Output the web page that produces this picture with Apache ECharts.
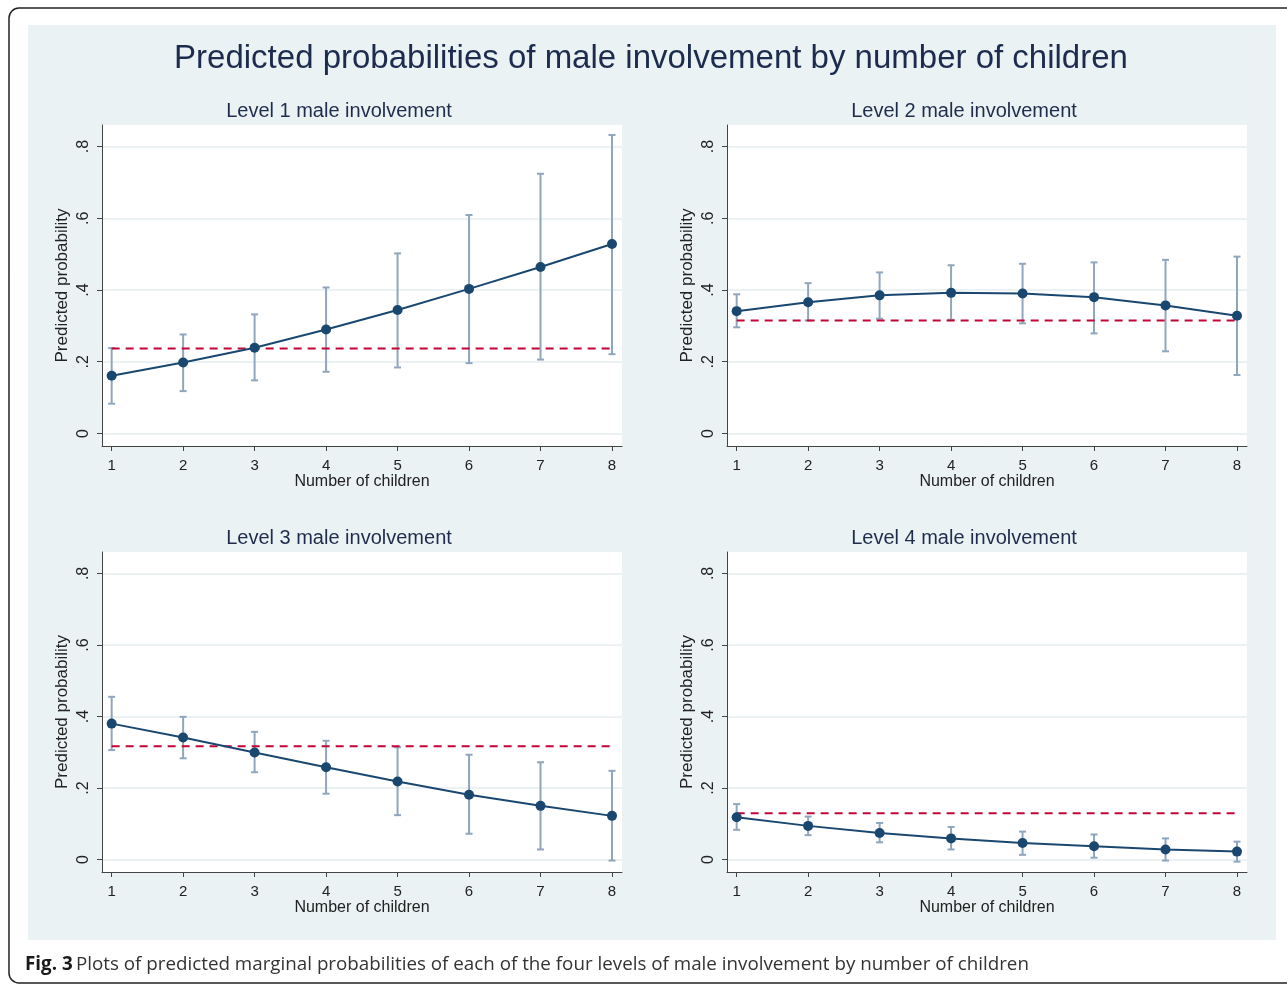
<!DOCTYPE html>
<html><head><meta charset="utf-8">
<script src="https://cdn.jsdelivr.net/npm/echarts@6/dist/echarts.min.js"></script>
<style>html,body{margin:0;padding:0;background:#fff;}#c{width:1287px;height:985px;}</style>
</head><body><div id="c"></div>
<script>
const children = [1, 2, 3, 4, 5, 6, 7, 8];
const yTickValues = [0, 0.2, 0.4, 0.6, 0.8];
const yTickLabels = ['0', '.2', '.4', '.6', '.8'];
const panelTitles = ['Level 1 male involvement', 'Level 2 male involvement', 'Level 3 male involvement', 'Level 4 male involvement'];

const l1Mean = [0.161, 0.198, 0.239, 0.290, 0.344, 0.403, 0.464, 0.528];
const l1Lo   = [0.083, 0.118, 0.148, 0.172, 0.184, 0.196, 0.206, 0.221];
const l1Hi   = [0.238, 0.276, 0.332, 0.407, 0.502, 0.609, 0.724, 0.832];
const l1Ref  = 0.237;

const l2Mean = [0.341, 0.366, 0.385, 0.392, 0.390, 0.380, 0.357, 0.328];
const l2Lo   = [0.296, 0.315, 0.320, 0.317, 0.307, 0.279, 0.229, 0.163];
const l2Hi   = [0.388, 0.419, 0.449, 0.469, 0.473, 0.477, 0.484, 0.493];
const l2Ref  = 0.315;

const l3Mean = [0.380, 0.341, 0.299, 0.258, 0.218, 0.181, 0.150, 0.122];
const l3Lo   = [0.306, 0.283, 0.244, 0.184, 0.124, 0.072, 0.028, -0.003];
const l3Hi   = [0.455, 0.399, 0.357, 0.332, 0.314, 0.293, 0.272, 0.248];
const l3Ref  = 0.317;

const l4Mean = [0.118, 0.094, 0.074, 0.059, 0.046, 0.037, 0.028, 0.022];
const l4Lo   = [0.083, 0.068, 0.048, 0.028, 0.013, 0.005, -0.003, -0.006];
const l4Hi   = [0.155, 0.120, 0.102, 0.091, 0.078, 0.070, 0.059, 0.050];
const l4Ref  = 0.129;

const panels = [
  {mean: l1Mean, lo: l1Lo, hi: l1Hi, ref: l1Ref},
  {mean: l2Mean, lo: l2Lo, hi: l2Hi, ref: l2Ref},
  {mean: l3Mean, lo: l3Lo, hi: l3Hi, ref: l3Ref},
  {mean: l4Mean, lo: l4Lo, hi: l4Hi, ref: l4Ref}
];

const FONT = '"Liberation Sans", Arial, sans-serif';
const NAVY = '#1a476f';
const ERR = '#90a6bd';
const RED = '#c10534';
const BG = '#eaf2f3';
const GRIDLINE = '#e6eef1';
const AXIS = '#444';

const gridPos = [
  {left: 102, top: 125, width: 520, height: 321},
  {left: 727, top: 125, width: 520, height: 321},
  {left: 102, top: 552, width: 520, height: 320},
  {left: 727, top: 552, width: 520, height: 320}
];
const titlePos = [[339, 111], [964, 111], [339, 538], [964, 538]];

const chart = echarts.init(document.getElementById('c'), null, {renderer: 'canvas'});

const grids = [], xAxes = [], yAxes = [], series = [];
const graphics = [
  {type: 'rect', z: -10, shape: {x: 9, y: 8, width: 1320, height: 975, r: 10}, style: {fill: '#fff', stroke: '#222', lineWidth: 1.5}},
  {type: 'rect', z: -9, shape: {x: 28, y: 25, width: 1248, height: 915}, style: {fill: BG}},
  {type: 'text', z: 5, style: {x: 651, y: 59, text: 'Predicted probabilities of male involvement by number of children', textAlign: 'center', textVerticalAlign: 'middle', font: '33px ' + FONT, fill: '#1c2b4e'}},
  {type: 'text', z: 5, style: {x: 25, y: 965, textVerticalAlign: 'middle', text: '{b|Fig. 3} {n|Plots of predicted marginal probabilities of each of the four levels of male involvement by number of children}',
    rich: {b: {fontFamily: '"Open Sans", sans-serif', fontWeight: 'bold', fontSize: 18.8, fill: '#1a1a1a', color: '#1a1a1a'},
           n: {fontFamily: '"Open Sans", sans-serif', fontSize: 18.8, fill: '#333', color: '#333'}}}}
];

panels.forEach((p, i) => {
  grids.push(Object.assign({containLabel: false, show: true, backgroundColor: '#fff', borderWidth: 0}, gridPos[i]));
  graphics.push({type: 'text', z: 5, style: {x: titlePos[i][0], y: titlePos[i][1], text: panelTitles[i], textAlign: 'center', textVerticalAlign: 'middle', font: '20px ' + FONT, fill: '#1f2c4c'}});
  xAxes.push({
    type: 'value', gridIndex: i, min: 0.865, max: 8.14,
    name: 'Number of children', nameLocation: 'middle', nameGap: 26,
    nameTextStyle: {fontFamily: FONT, fontSize: 16, color: '#222'},
    axisLine: {show: true, onZero: false, lineStyle: {color: AXIS, width: 1}},
    axisTick: {show: true, length: 5, customValues: children, lineStyle: {color: AXIS}},
    axisLabel: {customValues: children, fontFamily: FONT, fontSize: 15, color: '#222', margin: 12},
    splitLine: {show: false}
  });
  yAxes.push({
    type: 'value', gridIndex: i, min: -0.035, max: 0.86,
    name: 'Predicted probability', nameLocation: 'middle', nameGap: 31,
    nameTextStyle: {fontFamily: FONT, fontSize: 17, color: '#222'},
    axisLine: {show: true, onZero: false, lineStyle: {color: AXIS, width: 1}},
    axisTick: {show: true, length: 5, customValues: yTickValues, lineStyle: {color: AXIS}},
    axisLabel: {customValues: yTickValues, rotate: 90, margin: 10, fontFamily: FONT, fontSize: 16, color: '#222',
      formatter: v => { const k = yTickValues.findIndex(t => Math.abs(t - v) < 1e-9); return k >= 0 ? yTickLabels[k] : ''; }},
    splitLine: {show: true, lineStyle: {color: GRIDLINE, width: 1.5}}
  });
  const errData = children.map((c, k) => [c, p.lo[k], p.hi[k]]);
  series.push({
    type: 'custom', xAxisIndex: i, yAxisIndex: i, z: 2, silent: true,
    data: errData,
    renderItem: (params, api) => {
      const x = api.value(0);
      const a = api.coord([x, api.value(1)]);
      const b = api.coord([x, api.value(2)]);
      const cap = 3.5;
      const st = {stroke: ERR, lineWidth: 2};
      return {type: 'group', children: [
        {type: 'line', shape: {x1: a[0], y1: a[1], x2: b[0], y2: b[1]}, style: st},
        {type: 'line', shape: {x1: a[0] - cap, y1: a[1], x2: a[0] + cap, y2: a[1]}, style: st},
        {type: 'line', shape: {x1: b[0] - cap, y1: b[1], x2: b[0] + cap, y2: b[1]}, style: st}
      ]};
    }
  });
  series.push({
    type: 'line', xAxisIndex: i, yAxisIndex: i, z: 3, silent: true, symbol: 'none',
    data: [[children[0], p.ref], [children[children.length - 1], p.ref]],
    lineStyle: {color: RED, width: 2, type: [8, 6]}
  });
  series.push({
    type: 'line', xAxisIndex: i, yAxisIndex: i, z: 4, silent: true,
    data: children.map((c, k) => [c, p.mean[k]]),
    symbol: 'circle', symbolSize: 10,
    itemStyle: {color: NAVY}, lineStyle: {color: NAVY, width: 2}
  });
});

chart.setOption({
  animation: false,
  backgroundColor: '#fff',
  graphic: graphics,
  grid: grids,
  xAxis: xAxes,
  yAxis: yAxes,
  series: series
});
</script></body></html>
